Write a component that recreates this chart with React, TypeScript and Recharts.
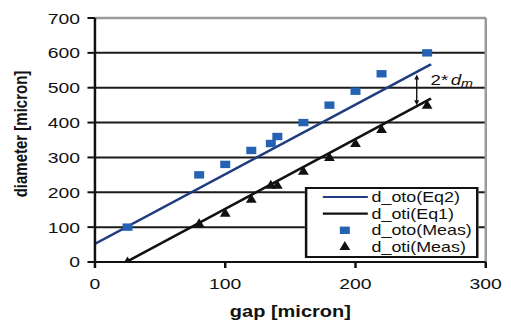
import React from 'react';
import {
  ComposedChart,
  Line,
  Scatter,
  XAxis,
  YAxis,
  CartesianGrid,
  ReferenceLine,
  Legend,
} from 'recharts';

// ---- data ----
const xTicks = [0, 100, 200, 300];
const yTicks = [0, 100, 200, 300, 400, 500, 600, 700];

const gapMeas = [25, 80, 100, 120, 135, 140, 160, 180, 200, 220, 255];
const otoMeas = [100, 250, 280, 320, 340, 360, 400, 450, 490, 540, 600];
const otiMeas = [0, 110, 140, 180, 220, 220, 260, 300, 340, 380, 450];

const eq2Gap = [-3, 258];
const eq2Val = [46, 567];
const eq1Gap = [22, 258];
const eq1Val = [-4, 469];

const arrowGap = 247;
const arrowTop = 538;
const arrowBottom = 450;

const legendNames = ['d_oto(Eq2)', 'd_oti(Eq1)', 'd_oto(Meas)', 'd_oti(Meas)'];
const xLabel = 'gap [micron]';
const yLabel = 'diameter [micron]';

// ---- built tables ----
const eq2Data = eq2Gap.map((x, i) => ({ x, y: eq2Val[i] }));
const eq1Data = eq1Gap.map((x, i) => ({ x, y: eq1Val[i] }));
const otoData = gapMeas.map((x, i) => ({ x, y: otoMeas[i] }));
const otiData = gapMeas.map((x, i) => ({ x, y: otiMeas[i] }));

// ---- styles ----
const FONT = '"Liberation Sans", Arial, Helvetica, sans-serif';
const W = 409;
const H = 320;
const STRETCH = 511 / W;
const BLUE_LINE = '#1F3D7E';
const BLUE_MARK = '#2462B3';
const BLACK = '#111111';
const GREY = '#9A9A9A';

const Square = (p: any) => {
  if (p.cx == null || p.cy == null) return <g />;
  return <rect x={p.cx - 4} y={p.cy - 3.7} width={8} height={7.4} fill={BLUE_MARK} />;
};

const Triangle = (p: any) => {
  if (p.cx == null || p.cy == null) return <g />;
  const { cx, cy } = p;
  return (
    <polygon
      points={`${cx},${cy - 5.5} ${cx - 4.3},${cy + 3.5} ${cx + 4.3},${cy + 3.5}`}
      fill={BLACK}
    />
  );
};

const renderArrow = (p: any) => {
  const x = p.x1;
  const y1 = Math.min(p.y1, p.y2);
  const y2 = Math.max(p.y1, p.y2);
  if (x == null || isNaN(x)) return <g />;
  return (
    <g>
      <line x1={x} y1={y1 + 3} x2={x} y2={y2 - 3} stroke={BLACK} strokeWidth={1.1} />
      <polygon points={`${x},${y1} ${x - 2},${y1 + 5} ${x + 2},${y1 + 5}`} fill={BLACK} />
      <polygon points={`${x},${y2} ${x - 2},${y2 - 5} ${x + 2},${y2 - 5}`} fill={BLACK} />
      <text x={x + 11} y={y1 + 10.5} fontSize={15} fill={BLACK} fontFamily={FONT}>
        2*
        <tspan fontStyle="italic" dx={2}>d</tspan>
        <tspan fontStyle="italic" fontSize={11.5} dy={2}>m</tspan>
      </text>
    </g>
  );
};

const renderLegend = () => {
  const rows = [10, 26.6, 43.3, 59.6];
  return (
    <div
      style={{
        width: 139.4,
        height: 71.6,
        boxSizing: 'border-box',
        border: `2px solid ${BLACK}`,
        background: '#fff',
      }}
    >
      <svg width={135.4} height={67.6} style={{ display: 'block' }}>
        {legendNames.map((name, i) => {
          const cy = rows[i] - 2;
          let sw: React.ReactNode = null;
          if (i === 0) sw = <line x1={12.4} x2={48.4} y1={cy} y2={cy} stroke={BLUE_LINE} strokeWidth={2.2} />;
          if (i === 1) sw = <line x1={12.4} x2={48.4} y1={cy} y2={cy} stroke={BLACK} strokeWidth={2.2} />;
          if (i === 2) sw = <Square cx={30} cy={cy} />;
          if (i === 3) sw = <Triangle cx={30} cy={cy} />;
          return (
            <g key={name}>
              {sw}
              <text x={51.4} y={cy} dy="0.36em" fontSize={14.3} fill={BLACK} fontFamily={FONT}>
                {name}
              </text>
            </g>
          );
        })}
      </svg>
    </div>
  );
};

const renderXLabel = (props: any) => {
  const vb = props.viewBox || { x: 76, y: 262, width: 312.8, height: 30 };
  return (
    <text
      x={vb.x + vb.width / 2}
      y={317}
      textAnchor="middle"
      fontSize={16}
      fontWeight="bold"
      fill={BLACK}
      fontFamily={FONT}
    >
      {xLabel}
    </text>
  );
};

const renderYLabel = (props: any) => {
  const vb = props.viewBox || { x: 0, y: 18, width: 76, height: 244 };
  const cx = 22;
  const cy = vb.y + vb.height / 2 - 6;
  return (
    <text
      x={cx}
      y={cy}
      transform={`rotate(-90, ${cx}, ${cy})`}
      textAnchor="middle"
      fontSize={15}
      fontWeight="bold"
      fill={BLACK}
      fontFamily={FONT}
    >
      {yLabel}
    </text>
  );
};

export default function App() {
  return (
    <div
      style={{
        position: 'absolute',
        left: 0,
        top: 0,
        width: W,
        height: H,
        background: '#fff',
        transform: `scaleX(${STRETCH})`,
        transformOrigin: '0 0',
      }}
    >
      <ComposedChart
        width={W}
        height={H}
        margin={{ top: 18, right: 20.2, bottom: 28, left: 0 }}
        style={{ fontFamily: FONT }}
      >
        <CartesianGrid horizontal vertical={false} stroke="#1a1a1a" strokeWidth={2} />
        <XAxis
          type="number"
          dataKey="x"
          domain={[0, 300]}
          ticks={xTicks}
          allowDataOverflow
          height={30}
          tickSize={6}
          tickMargin={10}
          interval={0}
          axisLine={{ stroke: BLACK, strokeWidth: 2 }}
          tickLine={{ stroke: BLACK, strokeWidth: 2 }}
          tick={{ fill: BLACK, fontSize: 15.5, fontFamily: FONT }}
          label={{ content: renderXLabel }}
        />
        <YAxis
          type="number"
          dataKey="y"
          domain={[0, 700]}
          ticks={yTicks}
          allowDataOverflow
          width={76}
          tickSize={6}
          tickMargin={6}
          interval={0}
          axisLine={{ stroke: BLACK, strokeWidth: 2 }}
          tickLine={{ stroke: BLACK, strokeWidth: 2 }}
          tick={{ fill: BLACK, fontSize: 15.5, fontFamily: FONT }}
          label={{ content: renderYLabel }}
        />
        <ReferenceLine y={700} stroke={GREY} strokeWidth={2.4} ifOverflow="visible" />
        <ReferenceLine x={300} stroke={GREY} strokeWidth={2} ifOverflow="visible" />
        <Line
          data={eq2Data}
          dataKey="y"
          type="linear"
          stroke={BLUE_LINE}
          strokeWidth={2.4}
          dot={false}
          activeDot={false}
          isAnimationActive={false}
          legendType="line"
          name={legendNames[0]}
        />
        <Line
          data={eq1Data}
          dataKey="y"
          type="linear"
          stroke={BLACK}
          strokeWidth={2.4}
          dot={false}
          activeDot={false}
          isAnimationActive={false}
          legendType="line"
          name={legendNames[1]}
        />
        <Scatter
          data={otoData}
          dataKey="y"
          shape={Square}
          fill={BLUE_MARK}
          isAnimationActive={false}
          name={legendNames[2]}
        />
        <Scatter
          data={otiData}
          dataKey="y"
          shape={Triangle}
          fill={BLACK}
          isAnimationActive={false}
          name={legendNames[3]}
        />
        <ReferenceLine
          segment={[
            { x: arrowGap, y: arrowTop },
            { x: arrowGap, y: arrowBottom },
          ]}
          shape={renderArrow}
          ifOverflow="visible"
        />
        <Legend
          layout="horizontal"
          verticalAlign="middle"
          align="center"
          wrapperStyle={{ left: 244, top: 186.7, width: 139.4, height: 71.6 }}
          content={renderLegend}
        />
      </ComposedChart>
    </div>
  );
}
